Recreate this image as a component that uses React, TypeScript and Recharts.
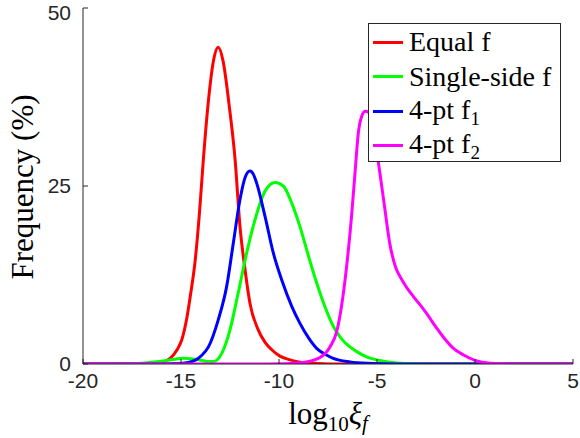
import { Legend, Line, LineChart, XAxis, YAxis } from 'recharts';

// x = log10(xi_f), y = frequency in %
const equalF = [
  { x: -20, y: 0 }, { x: -17, y: 0 }, { x: -16.2, y: 0.1 }, { x: -15.56, y: 0.8 },
  { x: -15.2, y: 2 }, { x: -14.96, y: 3.4 }, { x: -14.7, y: 6.5 }, { x: -14.5, y: 10 },
  { x: -14.29, y: 14.2 }, { x: -14.05, y: 21.5 }, { x: -13.86, y: 28.7 }, { x: -13.6, y: 37 },
  { x: -13.35, y: 42.5 }, { x: -13.1, y: 44.5 }, { x: -12.85, y: 42.5 }, { x: -12.55, y: 36.5 },
  { x: -12.24, y: 28.7 }, { x: -11.99, y: 19.3 }, { x: -11.73, y: 13.2 }, { x: -11.48, y: 8.5 },
  { x: -11.06, y: 4.8 }, { x: -10.7, y: 3 }, { x: -10.37, y: 2 }, { x: -9.95, y: 1.1 },
  { x: -9.52, y: 0.65 }, { x: -9, y: 0.3 }, { x: -8, y: 0.08 }, { x: -7, y: 0 }, { x: 5, y: 0 }
];

const singleSideF = [
  { x: -20, y: 0 }, { x: -18, y: 0.02 }, { x: -16.8, y: 0.15 }, { x: -16.24, y: 0.3 },
  { x: -15.5, y: 0.6 }, { x: -14.88, y: 0.8 }, { x: -14.4, y: 0.7 }, { x: -14.03, y: 0.55 },
  { x: -13.6, y: 0.35 }, { x: -13.35, y: 0.35 }, { x: -12.92, y: 1.5 }, { x: -12.5, y: 4.8 },
  { x: -12.08, y: 10 }, { x: -11.65, y: 15.6 }, { x: -11.22, y: 20.3 }, { x: -10.71, y: 24.3 },
  { x: -10.2, y: 25.5 }, { x: -9.78, y: 25 }, { x: -9.35, y: 22.6 }, { x: -8.93, y: 19.3 },
  { x: -8.5, y: 15.2 }, { x: -8.08, y: 11.4 }, { x: -7.65, y: 8 }, { x: -7.23, y: 5.3 },
  { x: -6.8, y: 3.5 }, { x: -6.38, y: 2.4 }, { x: -5.95, y: 1.6 }, { x: -5.53, y: 1 },
  { x: -4.68, y: 0.4 }, { x: -4, y: 0.15 }, { x: -3, y: 0.03 }, { x: -2, y: 0 }, { x: 5, y: 0 }
];

const fourPtF1 = [
  { x: -20, y: 0 }, { x: -16.5, y: 0 }, { x: -15.5, y: 0.05 }, { x: -14.8, y: 0.15 },
  { x: -14.29, y: 0.5 }, { x: -13.95, y: 1.2 }, { x: -13.6, y: 2.4 }, { x: -13.1, y: 6.2 },
  { x: -12.67, y: 10.9 }, { x: -12.33, y: 17 }, { x: -11.99, y: 23.1 }, { x: -11.73, y: 26.2 },
  { x: -11.48, y: 27.1 }, { x: -11.3, y: 26.6 }, { x: -11.14, y: 25.4 }, { x: -10.71, y: 20.7 },
  { x: -10.29, y: 15.6 }, { x: -9.86, y: 11.8 }, { x: -9.35, y: 8.1 }, { x: -8.93, y: 5.7 },
  { x: -8.5, y: 3.7 }, { x: -8.08, y: 2.2 }, { x: -7.6, y: 1.3 }, { x: -7.23, y: 0.8 },
  { x: -6.38, y: 0.3 }, { x: -5.5, y: 0.1 }, { x: -4, y: 0 }, { x: 5, y: 0 }
];

const fourPtF2 = [
  { x: -20, y: 0 }, { x: -11, y: 0 }, { x: -10, y: 0.03 }, { x: -9.3, y: 0.1 },
  { x: -8.6, y: 0.3 }, { x: -7.91, y: 0.9 }, { x: -7.4, y: 2.4 }, { x: -7.06, y: 4.5 },
  { x: -6.81, y: 8.1 }, { x: -6.55, y: 13.7 }, { x: -6.3, y: 20.7 }, { x: -6.12, y: 26.9 },
  { x: -5.95, y: 32.5 }, { x: -5.78, y: 34.8 }, { x: -5.6, y: 35.5 }, { x: -5.4, y: 35.3 },
  { x: -5.15, y: 32 }, { x: -4.93, y: 28.3 }, { x: -4.65, y: 22.8 }, { x: -4.34, y: 16.8 },
  { x: -4.05, y: 13.6 }, { x: -3.83, y: 12.3 }, { x: -3.5, y: 10.8 }, { x: -3.15, y: 9.5 },
  { x: -2.8, y: 8.3 }, { x: -2.47, y: 7.1 }, { x: -2, y: 5.2 }, { x: -1.62, y: 3.8 },
  { x: -1.1, y: 2.2 }, { x: -0.6, y: 1.3 }, { x: 0, y: 0.5 }, { x: 0.77, y: 0.1 },
  { x: 2, y: 0 }, { x: 5, y: 0 }
];

const xTicks = [-20, -15, -10, -5, 0, 5];
const yTicks = [0, 25, 50];

const series = [
  { name: 'Equal f', sub: '', color: '#ff0000', data: equalF },
  { name: 'Single-side f', sub: '', color: '#00ff00', data: singleSideF },
  { name: '4-pt f', sub: '1', color: '#0000ff', data: fourPtF1 },
  { name: '4-pt f', sub: '2', color: '#ff00ff', data: fourPtF2 }
];

const axisColor = '#262626';
const serif = "'Liberation Serif', 'DejaVu Serif', 'Times New Roman', Tinos, 'Noto Serif', Times, serif";
const sans = "'Liberation Sans', Arial, sans-serif";

function LegendBox(props: any) {
  const payload = props.payload || [];
  return (
    <div
      style={{
        boxSizing: 'border-box',
        width: 193,
        height: 139,
        border: `1px solid ${axisColor}`,
        background: '#fff',
        paddingTop: 1,
        fontFamily: serif,
        fontSize: 28,
        color: '#000'
      }}
    >
      {series.map((s, i) => {
        const item = payload.find((p: any) => p.value === s.name + s.sub);
        return (
          <div key={i} style={{ height: 34.5, display: 'flex', alignItems: 'center', whiteSpace: 'nowrap' }}>
            <span
              style={{
                display: 'inline-block',
                width: 30,
                height: 3,
                background: item ? item.color : s.color,
                marginLeft: 4,
                marginRight: 6
              }}
            />
            <span style={{ lineHeight: '28px' }}>
              {s.name}
              {s.sub && <span style={{ fontSize: 19, position: 'relative', top: 6 }}>{s.sub}</span>}
            </span>
          </div>
        );
      })}
    </div>
  );
}

function XLabel(props: any) {
  const vb = props.viewBox || {};
  const cx = vb.width ? vb.x + vb.width / 2 : 328;
  return (
    <text x={cx} y={424} textAnchor="middle" style={{ fontFamily: serif }} fontSize={31} fill="#000">
      log
      <tspan dy={7} fontSize={21}>10</tspan>
      <tspan dy={-7} fontStyle="italic">ξ</tspan>
      <tspan dy={6} fontSize={21} fontStyle="italic">f</tspan>
    </text>
  );
}

function YLabel() {
  return (
    <text
      x={0}
      y={0}
      transform="translate(33 187) rotate(-90)"
      textAnchor="middle"
      style={{ fontFamily: serif }}
      fontSize={31}
      fill="#000"
    >
      Frequency (%)
    </text>
  );
}

export default function App() {
  const tickStyle = { fill: axisColor, fontSize: 21, fontFamily: sans };
  return (
    <div style={{ position: 'absolute', left: 0, top: 0, background: '#fff' }}>
      <LineChart width={580} height={438} margin={{ top: 8, right: 7, bottom: 0, left: 0 }}>
        <XAxis
          type="number"
          dataKey="x"
          domain={[-20, 5]}
          ticks={xTicks}
          allowDataOverflow
          height={74}
          stroke={axisColor}
          tick={tickStyle}
          tickSize={-5}
          tickMargin={14}
          label={<XLabel />}
        />
        <XAxis
          xAxisId="top"
          orientation="top"
          type="number"
          domain={[-20, 5]}
          ticks={xTicks}
          allowDataOverflow
          height={0}
          stroke={axisColor}
          tickSize={-5}
          tickFormatter={() => ''}
        />
        <YAxis
          type="number"
          domain={[0, 50]}
          ticks={yTicks}
          allowDataOverflow
          width={83}
          stroke={axisColor}
          tick={tickStyle}
          tickSize={-5}
          tickMargin={17}
          label={<YLabel />}
        />
        <YAxis
          yAxisId="right"
          orientation="right"
          type="number"
          domain={[0, 50]}
          ticks={yTicks}
          allowDataOverflow
          width={0}
          stroke={axisColor}
          tickSize={-5}
          tickFormatter={() => ''}
        />
        {series.map((s, i) => (
          <Line
            key={i}
            data={s.data}
            dataKey="y"
            name={s.name + s.sub}
            type="monotone"
            stroke={s.color}
            strokeWidth={3}
            dot={false}
            isAnimationActive={false}
          />
        ))}
        <Legend
          layout="vertical"
          align="center"
          verticalAlign="middle"
          content={<LegendBox />}
          wrapperStyle={{ left: 368, top: 23, width: 193, height: 139 }}
        />
      </LineChart>
    </div>
  );
}
